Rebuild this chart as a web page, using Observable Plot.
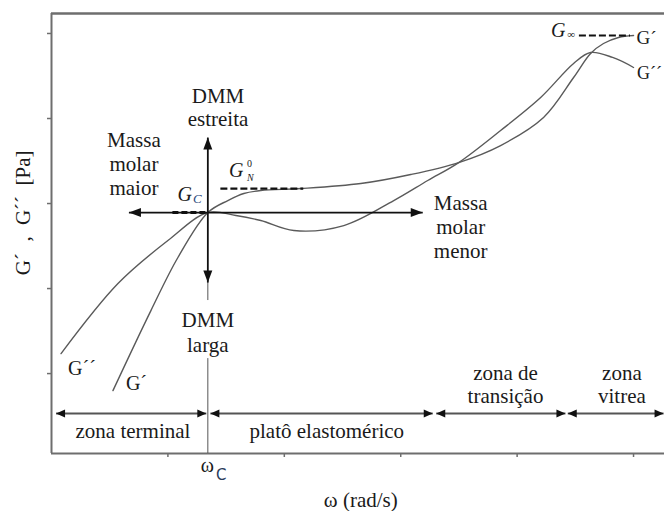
<!DOCTYPE html>
<html><head><meta charset="utf-8">
<script src="https://cdn.jsdelivr.net/npm/d3@7"></script>
<script src="https://cdn.jsdelivr.net/npm/@observablehq/plot@0.6"></script>
<style>body{margin:0;background:#fff}</style>
</head><body><div id="chart"></div>
<script>
// ---- data (log ω units, log G units) ----
const omegaStorage = [0.528,0.854,1.086,1.343,1.515,1.652,1.798,2.142,2.657,3.086,3.498,3.858,4.227,4.485,4.631,4.742,4.871,5.0];
const storageG     = [0.80,1.741,2.365,2.894,3.035,3.118,3.153,3.176,3.235,3.341,3.482,3.682,4.012,4.482,4.765,4.882,4.953,4.976];
const omegaLoss = [0.082,0.571,1.0,1.343,1.584,1.798,2.082,2.511,2.94,3.232,3.498,3.858,4.202,4.485,4.631,4.82,5.0];
const lossG     = [1.235,2.059,2.565,2.894,2.859,2.80,2.682,2.741,3.035,3.271,3.482,3.859,4.247,4.647,4.776,4.718,4.60];
const xTicks = [1,2,3,4,5];
const yTicks = [1,2,3,4,5];
const omegaC = 1.343, Gc = 2.894;
const GN0 = 3.176, GN0range = [1.455, 2.167];
const Ginf = 4.976, GinfRange = [4.535, 4.974];
const GcRange = [1.043, 1.326];
const shiftLeft = 0.665, shiftRight = 3.189, shiftUp = 3.776, shiftDown = 2.071;
const zoneNames = ["zona terminal", "platô elastomérico", "zona de\ntransição", "zona\nvitrea"];
const zoneStart = [0.039, 1.365, 3.305, 4.435];
const zoneEnd   = [1.330, 3.275, 4.415, 5.258];
const zoneLabelX = [0.70, 2.365, 3.90, 4.90];
const zoneLabelY = [0.329, 0.329, 0.876, 0.876];
const zoneArrowY = 0.529;

const xMin = 0, xMax = 5.266, yMin = 0.06, yMax = 5.235;

const storagePts = omegaStorage.map((x, i) => ({x, y: storageG[i]}));
const lossPts = omegaLoss.map((x, i) => ({x, y: lossG[i]}));
const zones = zoneNames.map((name, i) => ({name, x1: zoneStart[i], x2: zoneEnd[i], lx: zoneLabelX[i], ly: zoneLabelY[i]}));

function head(angleDeg, L, W) {
  const a = angleDeg * Math.PI / 180, c = Math.cos(a), s = Math.sin(a);
  const pts = [[0,0],[-L,-W/2],[-L,W/2]].map(([x,y]) => [x*c - y*s, x*s + y*c]);
  return {draw(ctx) { ctx.moveTo(pts[0][0], pts[0][1]); ctx.lineTo(pts[1][0], pts[1][1]); ctx.lineTo(pts[2][0], pts[2][1]); ctx.closePath(); }};
}

const serif = "Liberation Serif, Times New Roman, serif";
const ink = "#1a1a1a";
const axisGray = "#6e6e6e";
const curveGray = "#5a5a5a";
const T = (s, o) => Plot.text([s], {fontFamily: serif, fontSize: 21, fill: ink, ...o});

const plot = Plot.plot({
  width: 664, height: 511,
  marginLeft: 51, marginRight: 0, marginTop: 13, marginBottom: 58,
  x: {domain: [xMin, xMax], axis: null},
  y: {domain: [yMin, yMax], axis: null},
  style: "background: #fff; overflow: visible;",
  marks: [
    // frame & axes
    Plot.axisX(xTicks, {tickSize: 4, tickFormat: () => "", stroke: axisGray, strokeWidth: 1.5}),
    Plot.axisY(yTicks, {tickSize: 4, tickFormat: () => "", stroke: axisGray, strokeWidth: 1.5}),
    Plot.ruleY([yMin], {stroke: axisGray, strokeWidth: 2}),
    Plot.ruleY([yMax], {stroke: axisGray, strokeWidth: 2.5}),
    Plot.ruleX([xMin], {stroke: axisGray, strokeWidth: 2}),
    // omega_C vertical line (broken around the "DMM larga" label)
    Plot.ruleX([omegaC], {y1: yMin, y2: 1.176, stroke: "#555", strokeWidth: 1}),
    Plot.ruleX([omegaC], {y1: 1.859, y2: shiftDown, stroke: "#555", strokeWidth: 1}),
    // curves
    Plot.line(lossPts, {x: "x", y: "y", curve: "catmull-rom", stroke: curveGray, strokeWidth: 1.4}),
    Plot.line(storagePts, {x: "x", y: "y", curve: "catmull-rom", stroke: curveGray, strokeWidth: 1.4}),
    // dashed reference levels
    Plot.ruleY([Gc], {x1: GcRange[0], x2: GcRange[1], stroke: "#111", strokeWidth: 3, strokeDasharray: "6,3"}),
    Plot.ruleY([GN0], {x1: GN0range[0], x2: GN0range[1], stroke: "#111", strokeWidth: 2.2, strokeDasharray: "7,3"}),
    Plot.ruleY([Ginf], {x1: GinfRange[0], x2: GinfRange[1], stroke: "#111", strokeWidth: 2, strokeDasharray: "7,3"}),
    // cross arrows
    Plot.link([{x1: shiftLeft, x2: shiftRight, y1: Gc, y2: Gc}, {x1: omegaC, x2: omegaC, y1: shiftDown, y2: shiftUp}],
      {x1: "x1", x2: "x2", y1: "y1", y2: "y2", stroke: "#111", strokeWidth: 1.8}),
    Plot.dot([{x: shiftLeft, y: Gc}], {x: "x", y: "y", symbol: head(180, 12, 9), fill: "#111", stroke: "none"}),
    Plot.dot([{x: shiftRight, y: Gc}], {x: "x", y: "y", symbol: head(0, 12, 9), fill: "#111", stroke: "none"}),
    Plot.dot([{x: omegaC, y: shiftUp}], {x: "x", y: "y", symbol: head(-90, 12, 9), fill: "#111", stroke: "none"}),
    Plot.dot([{x: omegaC, y: shiftDown}], {x: "x", y: "y", symbol: head(90, 12, 9), fill: "#111", stroke: "none"}),
    // zone arrows
    Plot.link(zones, {x1: "x1", x2: "x2", y1: zoneArrowY, y2: zoneArrowY, stroke: "#555", strokeWidth: 2}),
    Plot.dot(zones, {x: "x1", y: () => zoneArrowY, symbol: head(180, 9, 8), fill: "#111", stroke: "none"}),
    Plot.dot(zones, {x: "x2", y: () => zoneArrowY, symbol: head(0, 9, 8), fill: "#111", stroke: "none"}),
    Plot.text(zones, {x: "lx", y: "ly", text: "name", lineHeight: 1.1, fill: ink, fontSize: 21, fontFamily: serif}),
    // annotations
    T("DMM\nestreita", {x: 1.43, y: 4.135, lineHeight: 1.1}),
    T("Massa\nmolar\nmaior", {x: 0.708, y: 3.47, lineHeight: 1.14}),
    T("Massa\nmolar\nmenor", {x: 3.515, y: 2.729, lineHeight: 1.14}),
    T("DMM\nlarga", {x: omegaC, y: 1.5, lineHeight: 1.19}),
    // curve labels
    T("G´´", {x: 0.142, y: 1.059, textAnchor: "start", fontSize: 20}),
    T("G´", {x: 0.639, y: 0.882, textAnchor: "start", fontSize: 20}),
    T("G´", {x: 5.026, y: 4.953, textAnchor: "start", fontSize: 19}),
    T("G´´", {x: 5.03, y: 4.529, textAnchor: "start", fontSize: 18}),
    // G_C
    T("G", {x: 1.082, y: 3.10, textAnchor: "start", fontStyle: "italic", fontSize: 20}),
    T("C", {x: 1.215, y: 3.06, textAnchor: "start", fontStyle: "italic", fontSize: 13, fill: "#2c4a7c"}),
    // G_N^0
    T("G", {x: 1.524, y: 3.388, textAnchor: "start", fontStyle: "italic", fontSize: 20}),
    T("N", {x: 1.68, y: 3.30, textAnchor: "start", fontStyle: "italic", fontSize: 10}),
    T("0", {x: 1.68, y: 3.47, textAnchor: "start", fontSize: 10}),
    // G_inf
    T("G", {x: 4.29, y: 5.035, textAnchor: "start", fontStyle: "italic", fontSize: 20}),
    T("∞", {x: 4.43, y: 4.985, textAnchor: "start", fontSize: 11}),
    // omega_C tick label
    T("ω", {x: 1.283, y: -0.082, textAnchor: "start", fontSize: 20}),
    T("C", {x: 1.413, y: -0.20, textAnchor: "start", fontFamily: "DejaVu Sans", fontSize: 15, fill: "#2a3a5a"}),
    // axis titles
    T("ω (rad/s)", {x: 2.657, y: -0.494, fontSize: 21}),
    T("G´  ‚  G´´  [Pa]", {x: -0.245, y: 2.89, rotate: -90, fontSize: 21})
  ]
});
document.getElementById("chart").appendChild(plot);
</script>
</body></html>
